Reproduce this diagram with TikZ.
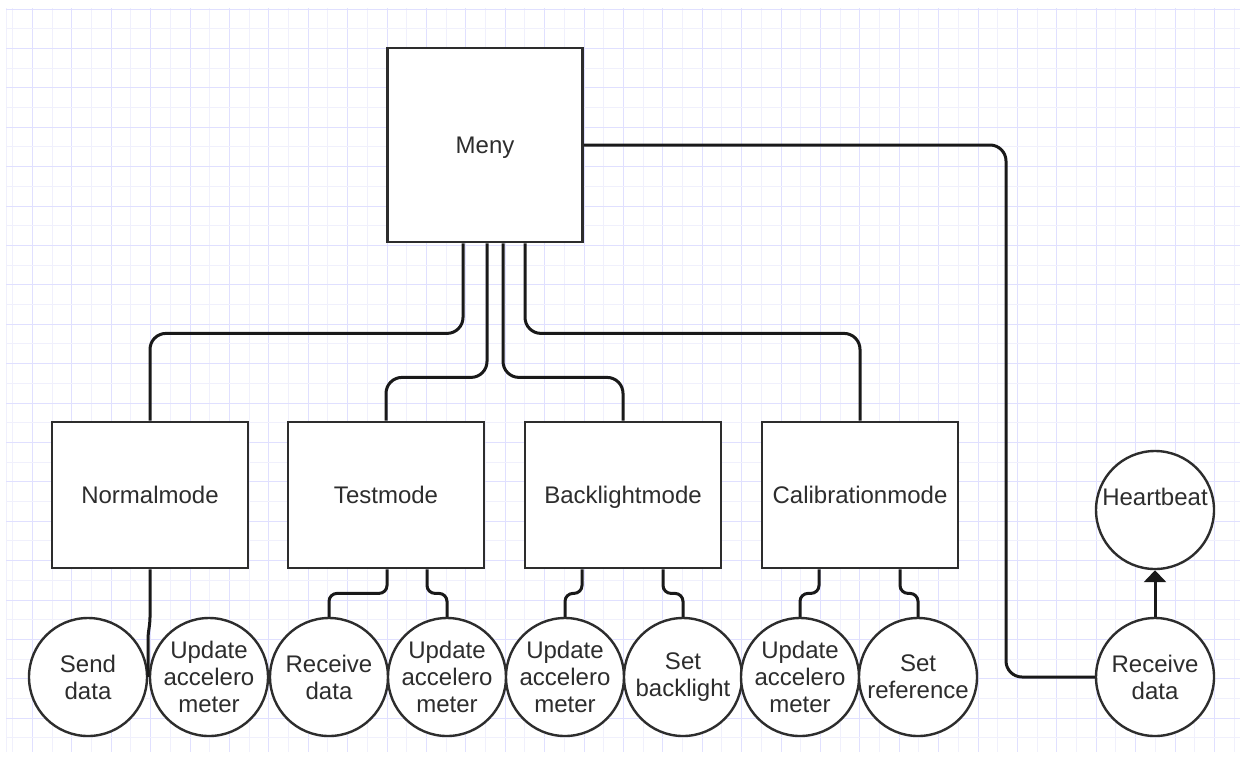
\documentclass[tikz,border=0pt]{standalone}
\usepackage{fontspec}
\setmainfont{Liberation Sans}
\usetikzlibrary{arrows.meta,calc}
\definecolor{gridA}{RGB}{240,240,252}
\definecolor{gridB}{RGB}{224,224,255}
\definecolor{ink}{RGB}{25,25,25}
\definecolor{boxink}{RGB}{45,45,45}
\definecolor{txt}{RGB}{45,45,45}
\tikzset{
  box/.style={draw=boxink, line width=2.8pt, fill=white, minimum width=196pt, minimum height=146pt,
    inner sep=0pt, font=\fontsize{24}{27}\selectfont, text=txt, text height=22pt, text depth=5pt},
  bigbox/.style={box, minimum width=195pt, minimum height=194pt},
  circ/.style={draw=boxink, line width=2.4pt, fill=white, circle, minimum size=118pt, inner sep=0pt},
  ctext/.style={font=\fontsize{24}{27}\selectfont, text=txt, align=center, inner sep=0pt},
  conn/.style={draw=ink, line width=3pt, rounded corners=16pt},
  subconn/.style={draw=ink, line width=3pt, rounded corners=8pt},
}
\begin{document}
\begin{tikzpicture}[x=1pt,y=-1pt]
\useasboundingbox (0,0) rectangle (1246,761);
\fill[white] (0,0) rectangle (1246,761);
% grid
\draw[gridA,line width=1pt] (6,8) -- (6,752);
\foreach \i in {0,...,62}{
  \pgfmathsetmacro\gx{12.7+19.7*\i}
  \ifodd\i
    \draw[gridB,line width=1pt] (\gx,8) -- (\gx,752);
  \else
    \draw[gridA,line width=1pt] (\gx,8) -- (\gx,752);
  \fi
}
\foreach \j in {0,...,37}{
  \pgfmathsetmacro\gy{9+19.7*\j}
  \ifodd\j
    \draw[gridA,line width=1pt] (6,\gy) -- (1240,\gy);
  \else
    \draw[gridB,line width=1pt] (6,\gy) -- (1240,\gy);
  \fi
}

% nodes
\node[bigbox] (meny) at (485,145) {Meny};
\node[box] (normal) at (150,495) {Normalmode};
\node[box] (test) at (386,495) {Testmode};
\node[box] (back) at (623,495) {Backlightmode};
\node[box] (cal) at (860,495) {Calibrationmode};

\node[circ, label={[ctext]center:Send\\data}] (send) at (88,677) {};
\node[circ, label={[ctext]center:Update\\accelero\\meter}] (upn) at (209,677) {};
\node[circ, label={[ctext]center:Receive\\data}] (rect) at (329,677) {};
\node[circ, label={[ctext]center:Update\\accelero\\meter}] (upt) at (447,677) {};
\node[circ, label={[ctext]center:Update\\accelero\\meter}] (upb) at (565,677) {};
\node[circ, label={[ctext]center:Set\\backlight}] (setb) at (683,677) {};
\node[circ, label={[ctext]center:Update\\accelero\\meter}] (upc) at (800,677) {};
\node[circ, label={[ctext]center:Set\\reference}] (setr) at (918,677) {};
\node[circ, label={[ctext]center:Receive\\data}] (recv) at (1155,677) {};
\node[circ, label={[ctext,yshift=13pt]center:Heartbeat}] (heart) at (1155,510) {};

% connectors from Meny
\draw[conn] ($(meny.south)+(-22,0)$) -- ++(0,90) -| (normal.north);
\draw[conn] ($(meny.south)+(2,0)$) -- ++(0,134) -| (test.north);
\draw[conn] ($(meny.south)+(18,0)$) -- ++(0,134) -| (back.north);
\draw[conn] ($(meny.south)+(40,0)$) -- ++(0,90) -| (cal.north);
\coordinate (turn) at (1006,0);
\draw[conn] (meny.east) -| (turn |- recv.west) -- (recv.west);

% mode to sub-circles
\draw[subconn, rounded corners=4pt] (normal.south) -- ++(0,52) -- ++(-2,14) -- (send.east);
\draw[subconn] ($(test.south)+(1,0)$) -- ++(0,24) -| (rect.north);
\draw[subconn] ($(test.south)+(41,0)$) -- ++(0,24) -| (upt.north);
\draw[subconn] ($(back.south)+(-41,0)$) -- ++(0,24) -| (upb.north);
\draw[subconn] ($(back.south)+(40,0)$) -- ++(0,24) -| (setb.north);
\draw[subconn] ($(cal.south)+(-41,0)$) -- ++(0,24) -| (upc.north);
\draw[subconn] ($(cal.south)+(40,0)$) -- ++(0,24) -| (setr.north);

% arrow
\draw[draw=ink, line width=3pt, -{Triangle[width=22pt,length=12pt]}] (recv.north) -- (heart.south);
\end{tikzpicture}
\end{document}
